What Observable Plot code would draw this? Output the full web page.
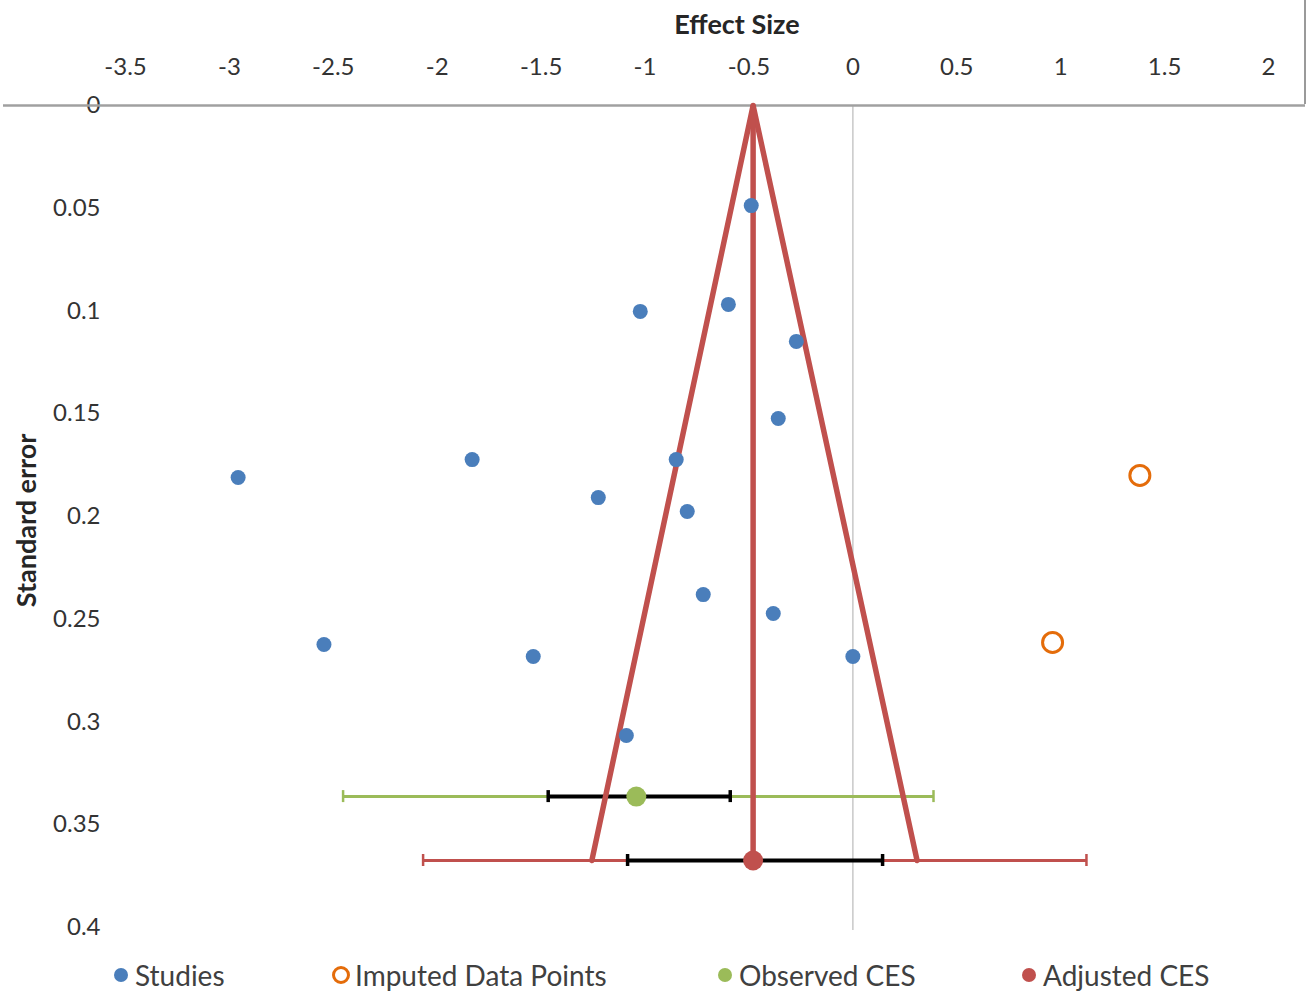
<!DOCTYPE html>
<html>
<head>
<meta charset="utf-8">
<script src="https://cdn.jsdelivr.net/npm/d3@7"></script>
<script src="https://cdn.jsdelivr.net/npm/@observablehq/plot@0.6"></script>
<style>
  body { margin: 0; background: #fff; font-family: Lato, "Open Sans", sans-serif; }
  #chart { position: relative; width: 1307px; height: 994px; overflow: hidden; background: #fff; }
  #chart svg.plot { display: block; }
  .legend { position: absolute; left: 0; top: 945px; width: 1307px; height: 49px; }
  .item { position: absolute; top: 15px; height: 30px; display: flex; align-items: center; font-size: 28px; color: #404040; white-space: nowrap; }
  .item svg { display: block; margin-right: 5px; }
  .edge { position: absolute; left: 1304px; top: 0; width: 2px; height: 104px; background: #9a9a9a; }
</style>
</head>
<body>
<div id="chart"></div>
<script>
// ---- data ----
const studyES = [-0.489, -1.023, -0.599, -0.272, -0.359, -1.832, -0.850, -2.958, -1.225, -0.797, -0.720, -0.383, -2.545, -1.538, 0.000, -1.090];
const studySE = [0.0487, 0.1002, 0.0968, 0.1148, 0.1523, 0.1723, 0.1723, 0.1810, 0.1908, 0.1976, 0.2380, 0.2472, 0.2623, 0.2681, 0.2681, 0.3066];
const imputedES = [1.381, 0.961];
const imputedSE = [0.180, 0.2613];
const observedCES = [-1.042];
const observedSE = [0.3363];
const observedCI = [-1.466, -0.590];
const observedPI = [-2.453, 0.388];
const adjustedCES = [-0.480];
const adjustedSE = [0.3674];
const adjustedCI = [-1.084, 0.143];
const adjustedPI = [-2.068, 1.124];
const funnelES = [-1.256, -0.480, 0.309];
const funnelSE = [0.3674, 0, 0.3674];
const xTicks = [-3.5, -3, -2.5, -2, -1.5, -1, -0.5, 0, 0.5, 1, 1.5, 2];
const xTickLabels = ["-3.5", "-3", "-2.5", "-2", "-1.5", "-1", "-0.5", "0", "0.5", "1", "1.5", "2"];
const yTicks = [0, 0.05, 0.1, 0.15, 0.2, 0.25, 0.3, 0.35, 0.4];
const yTickLabels = ["0", "0.05", "0.1", "0.15", "0.2", "0.25", "0.3", "0.35", "0.4"];
const legendLabels = ["Studies", "Imputed Data Points", "Observed CES", "Adjusted CES"];

// ---- derived tables ----
const studies = studyES.map((x, i) => ({x, y: studySE[i]}));
const imputed = imputedES.map((x, i) => ({x, y: imputedSE[i]}));
const funnel = funnelES.map((x, i) => ({x, y: funnelSE[i]}));
const observed = {x: observedCES[0], y: observedSE[0]};
const adjusted = {x: adjustedCES[0], y: adjustedSE[0]};
const spine = [{x: adjusted.x, y: 0}, {x: adjusted.x, y: adjusted.y}];
const bars = [
  {y: observed.y, x1: observedPI[0], x2: observedPI[1], c: "#9BBB59", w: 3},
  {y: adjusted.y, x1: adjustedPI[0], x2: adjustedPI[1], c: "#C0504D", w: 3},
  {y: observed.y, x1: observedCI[0], x2: observedCI[1], c: "#000000", w: 4},
  {y: adjusted.y, x1: adjustedCI[0], x2: adjustedCI[1], c: "#000000", w: 4}
];
const caps = bars.flatMap(b => [{x: b.x1, y: b.y, c: b.c, w: b.w - 0.5}, {x: b.x2, y: b.y, c: b.c, w: b.w - 0.5}]);
const xLab = new Map(xTicks.map((t, i) => [t, xTickLabels[i]]));
const yLab = new Map(yTicks.map((t, i) => [t, yTickLabels[i]]));

const plot = Plot.plot({
  width: 1307,
  height: 945,
  marginTop: 105,
  marginBottom: 18,
  marginLeft: 125,
  marginRight: 39,
  style: {fontFamily: "Lato, 'Open Sans', sans-serif", fontSize: "24px", color: "#333", background: "#fff", overflow: "visible"},
  x: {domain: [-3.5, 2]},
  y: {domain: [0, 0.4], reverse: true},
  marks: [
    Plot.ruleX([0], {stroke: "#c8c8c8", strokeWidth: 1.5, insetBottom: -3}),
    Plot.axisX({anchor: "top", ticks: xTicks, tickSize: 0, tickPadding: 31, tickFormat: d => xLab.get(d), label: null}),
    Plot.axisY({anchor: "left", ticks: yTicks, tickSize: 0, tickPadding: 25, tickFormat: d => yLab.get(d), label: null}),
    Plot.ruleY([0], {stroke: "#a0a0a0", strokeWidth: 2.5, insetLeft: -122, insetRight: -37}),
    Plot.ruleY(bars, {y: "y", x1: "x1", x2: "x2", stroke: "c", strokeWidth: "w"}),
    Plot.ruleX(caps, {x: "x", y1: "y", y2: "y", stroke: "c", strokeWidth: "w", insetTop: -6, insetBottom: -6}),
    Plot.line(funnel, {x: "x", y: "y", stroke: "#C0504D", strokeWidth: 5.5, strokeLinejoin: "miter"}),
    Plot.line(spine, {x: "x", y: "y", stroke: "#C0504D", strokeWidth: 5.5}),
    Plot.dot(studies, {x: "x", y: "y", r: 7.5, fill: "#4A7EBB", stroke: "none"}),
    Plot.dot(imputed, {x: "x", y: "y", r: 10, fill: "none", stroke: "#E46C0A", strokeWidth: 3}),
    Plot.dot([observed], {x: "x", y: "y", r: 10, fill: "#9BBB59", stroke: "none"}),
    Plot.dot([adjusted], {x: "x", y: "y", r: 10, fill: "#C0504D", stroke: "none"}),
    Plot.text(["Effect Size"], {frameAnchor: "top", dx: 40, dy: -91, fontWeight: "bold", fontSize: 27, fill: "#262626"}),
    Plot.text(["Standard error"], {frameAnchor: "left", textAnchor: "middle", dx: -98, dy: 4, rotate: -90, fontWeight: "bold", fontSize: 27, fill: "#262626"})
  ]
});

const chart = document.getElementById("chart");
chart.appendChild(plot);

// legend
const legend = document.createElement("div");
legend.className = "legend";
const swatches = [
  {left: 112, kind: "fill", color: "#4A7EBB"},
  {left: 332, kind: "ring", color: "#E46C0A"},
  {left: 716, kind: "fill", color: "#9BBB59"},
  {left: 1020, kind: "fill", color: "#C0504D"}
];
swatches.forEach((s, i) => {
  const it = document.createElement("div");
  it.className = "item";
  it.style.left = s.left + "px";
  const circ = s.kind === "ring"
    ? `<circle cx="9" cy="9" r="7.5" fill="none" stroke="${s.color}" stroke-width="3"/>`
    : `<circle cx="9" cy="9" r="7" fill="${s.color}"/>`;
  it.innerHTML = `<svg width="18" height="18">${circ}</svg><span>${legendLabels[i]}</span>`;
  legend.appendChild(it);
});
chart.appendChild(legend);
const edge = document.createElement("div");
edge.className = "edge";
chart.appendChild(edge);
</script>
</body>
</html>
